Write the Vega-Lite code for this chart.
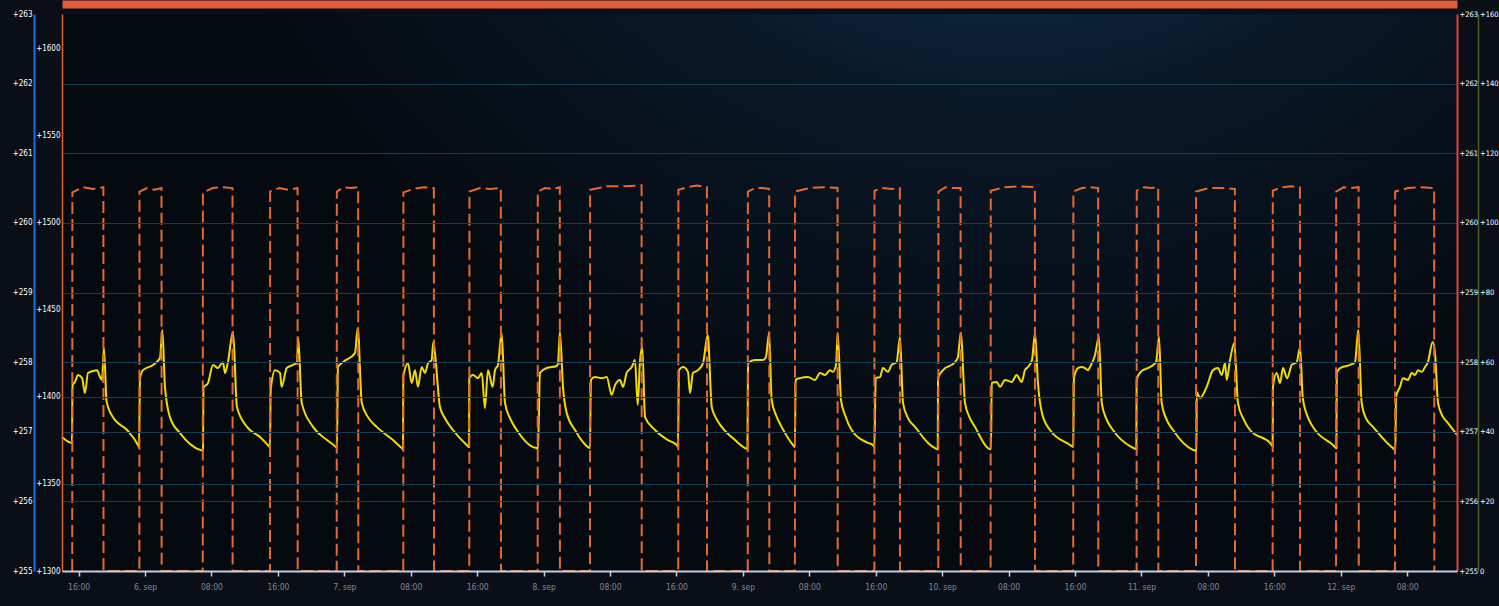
{
  "$schema": "https://vega.github.io/schema/vega-lite/v6.json",
  "width": 1395,
  "height": 557,
  "autosize": {"type": "none"},
  "padding": {"left": 62, "top": 14, "right": 42, "bottom": 35},
  "background": "#0a0f17",
  "view": {"stroke": null},
  "config": {
    "axis": {
      "labelFont": "DejaVu Sans Condensed, sans-serif",
      "labelColor": "#ffffff",
      "labelFontSize": 8,
      "ticks": false,
      "title": null,
      "grid": false,
      "labelPadding": 2
    }
  },
  "datasets": {
    "yel": [
      {"t": "2023-09-05T14:00:00Z", "v": 38.5},
      {"t": "2023-09-05T15:12:00Z", "v": 36.8},
      {"t": "2023-09-05T15:16:00Z", "v": 53.4},
      {"t": "2023-09-05T15:34:00Z", "v": 54.3},
      {"t": "2023-09-05T15:56:00Z", "v": 56.3},
      {"t": "2023-09-05T16:25:00Z", "v": 55.4},
      {"t": "2023-09-05T16:46:00Z", "v": 51.1},
      {"t": "2023-09-05T17:08:00Z", "v": 56.9},
      {"t": "2023-09-05T18:13:00Z", "v": 57.7},
      {"t": "2023-09-05T18:35:00Z", "v": 55.7},
      {"t": "2023-09-05T18:49:00Z", "v": 54.9},
      {"t": "2023-09-05T19:03:00Z", "v": 64.1},
      {"t": "2023-09-05T19:22:00Z", "v": 48.8},
      {"t": "2023-09-05T20:08:00Z", "v": 44.2},
      {"t": "2023-09-05T21:50:00Z", "v": 40.5},
      {"t": "2023-09-05T23:09:00Z", "v": 36.2},
      {"t": "2023-09-05T23:16:00Z", "v": 35.6},
      {"t": "2023-09-05T23:24:00Z", "v": 55.4},
      {"t": "2023-09-05T23:45:00Z", "v": 57.7},
      {"t": "2023-09-06T00:58:00Z", "v": 59.2},
      {"t": "2023-09-06T01:48:00Z", "v": 61.2},
      {"t": "2023-09-06T02:05:00Z", "v": 69.2},
      {"t": "2023-09-06T02:24:00Z", "v": 52.9},
      {"t": "2023-09-06T03:00:00Z", "v": 44.2},
      {"t": "2023-09-06T04:13:00Z", "v": 39.6},
      {"t": "2023-09-06T06:37:00Z", "v": 34.8},
      {"t": "2023-09-06T06:59:00Z", "v": 34.6},
      {"t": "2023-09-06T07:02:00Z", "v": 52.6},
      {"t": "2023-09-06T07:35:00Z", "v": 54.0},
      {"t": "2023-09-06T08:11:00Z", "v": 59.2},
      {"t": "2023-09-06T08:47:00Z", "v": 58.3},
      {"t": "2023-09-06T09:23:00Z", "v": 60.0},
      {"t": "2023-09-06T09:38:00Z", "v": 56.9},
      {"t": "2023-09-06T09:59:00Z", "v": 60.0},
      {"t": "2023-09-06T10:36:00Z", "v": 68.7},
      {"t": "2023-09-06T11:04:00Z", "v": 47.1},
      {"t": "2023-09-06T12:17:00Z", "v": 41.4},
      {"t": "2023-09-06T13:51:00Z", "v": 38.5},
      {"t": "2023-09-06T14:48:00Z", "v": 36.2},
      {"t": "2023-09-06T15:03:00Z", "v": 35.6},
      {"t": "2023-09-06T15:08:00Z", "v": 52.0},
      {"t": "2023-09-06T15:39:00Z", "v": 57.7},
      {"t": "2023-09-06T16:15:00Z", "v": 56.9},
      {"t": "2023-09-06T16:27:00Z", "v": 52.9},
      {"t": "2023-09-06T17:04:00Z", "v": 58.3},
      {"t": "2023-09-06T17:49:00Z", "v": 59.2},
      {"t": "2023-09-06T18:18:00Z", "v": 60.0},
      {"t": "2023-09-06T18:27:00Z", "v": 66.9},
      {"t": "2023-09-06T18:52:00Z", "v": 48.3},
      {"t": "2023-09-06T20:14:00Z", "v": 41.4},
      {"t": "2023-09-06T21:55:00Z", "v": 37.6},
      {"t": "2023-09-06T23:00:00Z", "v": 35.6},
      {"t": "2023-09-06T23:07:00Z", "v": 35.3},
      {"t": "2023-09-06T23:14:00Z", "v": 58.6},
      {"t": "2023-09-06T23:50:00Z", "v": 60.0},
      {"t": "2023-09-07T01:17:00Z", "v": 62.6},
      {"t": "2023-09-07T01:37:00Z", "v": 69.8},
      {"t": "2023-09-07T02:06:00Z", "v": 48.3},
      {"t": "2023-09-07T02:51:00Z", "v": 44.2},
      {"t": "2023-09-07T03:54:00Z", "v": 41.4},
      {"t": "2023-09-07T05:52:00Z", "v": 37.6},
      {"t": "2023-09-07T06:55:00Z", "v": 35.3},
      {"t": "2023-09-07T07:04:00Z", "v": 35.0},
      {"t": "2023-09-07T07:06:00Z", "v": 55.7},
      {"t": "2023-09-07T07:40:00Z", "v": 59.7},
      {"t": "2023-09-07T08:07:00Z", "v": 54.0},
      {"t": "2023-09-07T08:31:00Z", "v": 57.7},
      {"t": "2023-09-07T08:52:00Z", "v": 52.9},
      {"t": "2023-09-07T09:19:00Z", "v": 58.6},
      {"t": "2023-09-07T09:43:00Z", "v": 56.9},
      {"t": "2023-09-07T10:05:00Z", "v": 59.7},
      {"t": "2023-09-07T10:31:00Z", "v": 60.6},
      {"t": "2023-09-07T10:43:00Z", "v": 65.8},
      {"t": "2023-09-07T10:55:00Z", "v": 62.6},
      {"t": "2023-09-07T11:31:00Z", "v": 47.1},
      {"t": "2023-09-07T12:07:00Z", "v": 43.9},
      {"t": "2023-09-07T13:05:00Z", "v": 40.5},
      {"t": "2023-09-07T14:44:00Z", "v": 36.2},
      {"t": "2023-09-07T15:01:00Z", "v": 35.6},
      {"t": "2023-09-07T15:03:00Z", "v": 55.4},
      {"t": "2023-09-07T15:30:00Z", "v": 56.3},
      {"t": "2023-09-07T16:06:00Z", "v": 55.4},
      {"t": "2023-09-07T16:33:00Z", "v": 56.9},
      {"t": "2023-09-07T16:56:00Z", "v": 46.8},
      {"t": "2023-09-07T17:18:00Z", "v": 57.7},
      {"t": "2023-09-07T17:52:00Z", "v": 52.9},
      {"t": "2023-09-07T18:09:00Z", "v": 57.7},
      {"t": "2023-09-07T18:30:00Z", "v": 59.2},
      {"t": "2023-09-07T18:57:00Z", "v": 68.4},
      {"t": "2023-09-07T19:21:00Z", "v": 48.3},
      {"t": "2023-09-07T19:57:00Z", "v": 43.9},
      {"t": "2023-09-07T20:46:00Z", "v": 40.5},
      {"t": "2023-09-07T22:43:00Z", "v": 35.6},
      {"t": "2023-09-07T23:10:00Z", "v": 35.3},
      {"t": "2023-09-07T23:19:00Z", "v": 35.0},
      {"t": "2023-09-07T23:34:00Z", "v": 56.9},
      {"t": "2023-09-08T00:22:00Z", "v": 58.3},
      {"t": "2023-09-08T01:35:00Z", "v": 58.9},
      {"t": "2023-09-08T01:44:00Z", "v": 59.7},
      {"t": "2023-09-08T01:58:00Z", "v": 68.7},
      {"t": "2023-09-08T02:20:00Z", "v": 52.9},
      {"t": "2023-09-08T02:47:00Z", "v": 45.4},
      {"t": "2023-09-08T03:47:00Z", "v": 40.5},
      {"t": "2023-09-08T05:21:00Z", "v": 35.6},
      {"t": "2023-09-08T05:35:00Z", "v": 35.3},
      {"t": "2023-09-08T05:42:00Z", "v": 54.9},
      {"t": "2023-09-08T06:11:00Z", "v": 55.7},
      {"t": "2023-09-08T07:00:00Z", "v": 55.4},
      {"t": "2023-09-08T07:36:00Z", "v": 55.7},
      {"t": "2023-09-08T08:12:00Z", "v": 50.6},
      {"t": "2023-09-08T08:36:00Z", "v": 53.4},
      {"t": "2023-09-08T09:12:00Z", "v": 54.9},
      {"t": "2023-09-08T09:34:00Z", "v": 52.9},
      {"t": "2023-09-08T10:00:00Z", "v": 56.9},
      {"t": "2023-09-08T10:37:00Z", "v": 58.6},
      {"t": "2023-09-08T11:00:00Z", "v": 60.6},
      {"t": "2023-09-08T11:20:00Z", "v": 47.7},
      {"t": "2023-09-08T11:37:00Z", "v": 60.6},
      {"t": "2023-09-08T11:53:00Z", "v": 64.3},
      {"t": "2023-09-08T12:13:00Z", "v": 44.2},
      {"t": "2023-09-08T13:25:00Z", "v": 40.5},
      {"t": "2023-09-08T14:59:00Z", "v": 37.6},
      {"t": "2023-09-08T16:02:00Z", "v": 36.2},
      {"t": "2023-09-08T16:11:00Z", "v": 35.6},
      {"t": "2023-09-08T16:18:00Z", "v": 57.7},
      {"t": "2023-09-08T16:47:00Z", "v": 58.6},
      {"t": "2023-09-08T17:23:00Z", "v": 57.2},
      {"t": "2023-09-08T17:38:00Z", "v": 51.1},
      {"t": "2023-09-08T17:59:00Z", "v": 56.9},
      {"t": "2023-09-08T18:36:00Z", "v": 57.7},
      {"t": "2023-09-08T19:12:00Z", "v": 59.7},
      {"t": "2023-09-08T19:46:00Z", "v": 67.8},
      {"t": "2023-09-08T20:15:00Z", "v": 47.1},
      {"t": "2023-09-08T20:46:00Z", "v": 43.9},
      {"t": "2023-09-08T21:27:00Z", "v": 41.4},
      {"t": "2023-09-08T23:03:00Z", "v": 37.6},
      {"t": "2023-09-09T00:15:00Z", "v": 35.3},
      {"t": "2023-09-09T00:33:00Z", "v": 35.0},
      {"t": "2023-09-09T00:37:00Z", "v": 59.7},
      {"t": "2023-09-09T01:27:00Z", "v": 60.6},
      {"t": "2023-09-09T02:25:00Z", "v": 60.6},
      {"t": "2023-09-09T02:47:00Z", "v": 61.5},
      {"t": "2023-09-09T03:09:00Z", "v": 68.4},
      {"t": "2023-09-09T03:28:00Z", "v": 49.1},
      {"t": "2023-09-09T03:59:00Z", "v": 44.8},
      {"t": "2023-09-09T04:40:00Z", "v": 41.4},
      {"t": "2023-09-09T06:02:00Z", "v": 36.2},
      {"t": "2023-09-09T06:16:00Z", "v": 35.6},
      {"t": "2023-09-09T06:21:00Z", "v": 54.9},
      {"t": "2023-09-09T06:53:00Z", "v": 55.4},
      {"t": "2023-09-09T07:50:00Z", "v": 55.7},
      {"t": "2023-09-09T08:41:00Z", "v": 54.9},
      {"t": "2023-09-09T09:17:00Z", "v": 56.9},
      {"t": "2023-09-09T09:53:00Z", "v": 56.3},
      {"t": "2023-09-09T10:29:00Z", "v": 57.7},
      {"t": "2023-09-09T10:51:00Z", "v": 57.2},
      {"t": "2023-09-09T11:13:00Z", "v": 59.2},
      {"t": "2023-09-09T11:25:00Z", "v": 68.4},
      {"t": "2023-09-09T11:49:00Z", "v": 49.1},
      {"t": "2023-09-09T12:18:00Z", "v": 44.8},
      {"t": "2023-09-09T13:06:00Z", "v": 40.5},
      {"t": "2023-09-09T15:04:00Z", "v": 36.8},
      {"t": "2023-09-09T15:40:00Z", "v": 36.2},
      {"t": "2023-09-09T15:50:00Z", "v": 35.6},
      {"t": "2023-09-09T16:00:00Z", "v": 55.4},
      {"t": "2023-09-09T16:31:00Z", "v": 55.7},
      {"t": "2023-09-09T16:52:00Z", "v": 58.3},
      {"t": "2023-09-09T17:28:00Z", "v": 57.2},
      {"t": "2023-09-09T17:55:00Z", "v": 59.2},
      {"t": "2023-09-09T18:31:00Z", "v": 60.0},
      {"t": "2023-09-09T18:55:00Z", "v": 67.2},
      {"t": "2023-09-09T19:17:00Z", "v": 48.3},
      {"t": "2023-09-09T19:53:00Z", "v": 43.9},
      {"t": "2023-09-09T20:44:00Z", "v": 41.4},
      {"t": "2023-09-09T22:18:00Z", "v": 36.8},
      {"t": "2023-09-09T23:08:00Z", "v": 35.3},
      {"t": "2023-09-09T23:28:00Z", "v": 35.0},
      {"t": "2023-09-09T23:30:00Z", "v": 55.4},
      {"t": "2023-09-10T00:06:00Z", "v": 57.7},
      {"t": "2023-09-10T01:33:00Z", "v": 60.0},
      {"t": "2023-09-10T01:54:00Z", "v": 61.5},
      {"t": "2023-09-10T02:14:00Z", "v": 68.4},
      {"t": "2023-09-10T02:45:00Z", "v": 48.3},
      {"t": "2023-09-10T03:14:00Z", "v": 44.5},
      {"t": "2023-09-10T03:57:00Z", "v": 41.4},
      {"t": "2023-09-10T05:31:00Z", "v": 35.3},
      {"t": "2023-09-10T05:53:00Z", "v": 35.0},
      {"t": "2023-09-10T05:58:00Z", "v": 54.0},
      {"t": "2023-09-10T06:34:00Z", "v": 54.3},
      {"t": "2023-09-10T06:58:00Z", "v": 52.9},
      {"t": "2023-09-10T07:34:00Z", "v": 54.9},
      {"t": "2023-09-10T08:22:00Z", "v": 54.3},
      {"t": "2023-09-10T08:58:00Z", "v": 56.3},
      {"t": "2023-09-10T09:35:00Z", "v": 54.3},
      {"t": "2023-09-10T09:58:00Z", "v": 57.7},
      {"t": "2023-09-10T10:20:00Z", "v": 58.6},
      {"t": "2023-09-10T10:49:00Z", "v": 60.6},
      {"t": "2023-09-10T11:11:00Z", "v": 68.4},
      {"t": "2023-09-10T11:32:00Z", "v": 54.0},
      {"t": "2023-09-10T12:01:00Z", "v": 45.4},
      {"t": "2023-09-10T12:59:00Z", "v": 40.5},
      {"t": "2023-09-10T15:24:00Z", "v": 36.2},
      {"t": "2023-09-10T15:47:00Z", "v": 35.6},
      {"t": "2023-09-10T15:52:00Z", "v": 55.4},
      {"t": "2023-09-10T16:21:00Z", "v": 58.3},
      {"t": "2023-09-10T16:48:00Z", "v": 58.6},
      {"t": "2023-09-10T17:12:00Z", "v": 58.3},
      {"t": "2023-09-10T17:34:00Z", "v": 57.7},
      {"t": "2023-09-10T17:48:00Z", "v": 58.6},
      {"t": "2023-09-10T18:24:00Z", "v": 62.0},
      {"t": "2023-09-10T18:53:00Z", "v": 67.2},
      {"t": "2023-09-10T19:13:00Z", "v": 48.3},
      {"t": "2023-09-10T19:44:00Z", "v": 43.9},
      {"t": "2023-09-10T20:34:00Z", "v": 40.5},
      {"t": "2023-09-10T22:49:00Z", "v": 35.6},
      {"t": "2023-09-10T23:23:00Z", "v": 35.0},
      {"t": "2023-09-10T23:25:00Z", "v": 54.9},
      {"t": "2023-09-10T23:54:00Z", "v": 57.2},
      {"t": "2023-09-11T01:02:00Z", "v": 58.6},
      {"t": "2023-09-11T01:45:00Z", "v": 60.0},
      {"t": "2023-09-11T02:07:00Z", "v": 67.2},
      {"t": "2023-09-11T02:26:00Z", "v": 48.3},
      {"t": "2023-09-11T02:57:00Z", "v": 43.9},
      {"t": "2023-09-11T03:48:00Z", "v": 40.5},
      {"t": "2023-09-11T06:12:00Z", "v": 34.8},
      {"t": "2023-09-11T06:38:00Z", "v": 34.5},
      {"t": "2023-09-11T06:39:00Z", "v": 51.4},
      {"t": "2023-09-11T07:03:00Z", "v": 49.7},
      {"t": "2023-09-11T07:51:00Z", "v": 52.9},
      {"t": "2023-09-11T08:37:00Z", "v": 57.7},
      {"t": "2023-09-11T09:13:00Z", "v": 58.3},
      {"t": "2023-09-11T09:40:00Z", "v": 56.3},
      {"t": "2023-09-11T10:04:00Z", "v": 59.7},
      {"t": "2023-09-11T10:16:00Z", "v": 54.9},
      {"t": "2023-09-11T10:40:00Z", "v": 60.6},
      {"t": "2023-09-11T11:11:00Z", "v": 65.5},
      {"t": "2023-09-11T11:37:00Z", "v": 48.3},
      {"t": "2023-09-11T12:14:00Z", "v": 43.9},
      {"t": "2023-09-11T13:04:00Z", "v": 40.5},
      {"t": "2023-09-11T15:29:00Z", "v": 36.8},
      {"t": "2023-09-11T15:48:00Z", "v": 35.9},
      {"t": "2023-09-11T15:50:00Z", "v": 52.9},
      {"t": "2023-09-11T16:17:00Z", "v": 56.9},
      {"t": "2023-09-11T16:41:00Z", "v": 54.0},
      {"t": "2023-09-11T17:03:00Z", "v": 58.3},
      {"t": "2023-09-11T17:32:00Z", "v": 55.4},
      {"t": "2023-09-11T18:06:00Z", "v": 59.2},
      {"t": "2023-09-11T18:42:00Z", "v": 60.0},
      {"t": "2023-09-11T19:06:00Z", "v": 64.3},
      {"t": "2023-09-11T19:25:00Z", "v": 50.0},
      {"t": "2023-09-11T19:56:00Z", "v": 44.8},
      {"t": "2023-09-11T20:39:00Z", "v": 41.4},
      {"t": "2023-09-11T23:04:00Z", "v": 36.2},
      {"t": "2023-09-11T23:29:00Z", "v": 35.3},
      {"t": "2023-09-11T23:31:00Z", "v": 56.9},
      {"t": "2023-09-11T23:55:00Z", "v": 58.3},
      {"t": "2023-09-12T01:07:00Z", "v": 59.2},
      {"t": "2023-09-12T01:43:00Z", "v": 60.0},
      {"t": "2023-09-12T02:07:00Z", "v": 69.2},
      {"t": "2023-09-12T02:31:00Z", "v": 48.3},
      {"t": "2023-09-12T03:02:00Z", "v": 43.9},
      {"t": "2023-09-12T03:53:00Z", "v": 41.4},
      {"t": "2023-09-12T06:17:00Z", "v": 35.3},
      {"t": "2023-09-12T06:35:00Z", "v": 34.8},
      {"t": "2023-09-12T06:39:00Z", "v": 50.0},
      {"t": "2023-09-12T07:08:00Z", "v": 52.9},
      {"t": "2023-09-12T07:30:00Z", "v": 55.4},
      {"t": "2023-09-12T08:06:00Z", "v": 54.9},
      {"t": "2023-09-12T08:33:00Z", "v": 56.9},
      {"t": "2023-09-12T08:56:00Z", "v": 56.3},
      {"t": "2023-09-12T09:18:00Z", "v": 57.7},
      {"t": "2023-09-12T09:45:00Z", "v": 57.2},
      {"t": "2023-09-12T10:09:00Z", "v": 58.6},
      {"t": "2023-09-12T10:30:00Z", "v": 60.0},
      {"t": "2023-09-12T11:04:00Z", "v": 65.8},
      {"t": "2023-09-12T11:21:00Z", "v": 62.6},
      {"t": "2023-09-12T11:43:00Z", "v": 48.3},
      {"t": "2023-09-12T12:12:00Z", "v": 44.8},
      {"t": "2023-09-12T12:55:00Z", "v": 42.5},
      {"t": "2023-09-12T14:00:00Z", "v": 39.1}
    ],
    "org": [
      {"t": "2023-09-05T15:14:00Z", "p": 1300},
      {"t": "2023-09-05T15:15:00Z", "p": 1517.5},
      {"t": "2023-09-05T16:30:00Z", "p": 1520.5},
      {"t": "2023-09-05T17:45:00Z", "p": 1519.5},
      {"t": "2023-09-05T18:59:00Z", "p": 1520.5},
      {"t": "2023-09-05T19:00:00Z", "p": 1300},
      {"t": "2023-09-05T23:19:00Z", "p": 1300},
      {"t": "2023-09-05T23:20:00Z", "p": 1518.0},
      {"t": "2023-09-06T00:15:00Z", "p": 1520.0},
      {"t": "2023-09-06T01:10:00Z", "p": 1519.0},
      {"t": "2023-09-06T01:59:00Z", "p": 1520.0},
      {"t": "2023-09-06T02:00:00Z", "p": 1300},
      {"t": "2023-09-06T06:57:00Z", "p": 1300},
      {"t": "2023-09-06T06:58:00Z", "p": 1517.5},
      {"t": "2023-09-06T08:10:00Z", "p": 1520.0},
      {"t": "2023-09-06T09:20:00Z", "p": 1520.5},
      {"t": "2023-09-06T10:32:00Z", "p": 1520.0},
      {"t": "2023-09-06T10:33:00Z", "p": 1300},
      {"t": "2023-09-06T15:03:00Z", "p": 1300},
      {"t": "2023-09-06T15:04:00Z", "p": 1518.0},
      {"t": "2023-09-06T16:10:00Z", "p": 1520.0},
      {"t": "2023-09-06T17:15:00Z", "p": 1519.0},
      {"t": "2023-09-06T18:22:00Z", "p": 1520.0},
      {"t": "2023-09-06T18:23:00Z", "p": 1300},
      {"t": "2023-09-06T23:05:00Z", "p": 1300},
      {"t": "2023-09-06T23:06:00Z", "p": 1518.0},
      {"t": "2023-09-06T23:55:00Z", "p": 1520.5},
      {"t": "2023-09-07T00:50:00Z", "p": 1520.0},
      {"t": "2023-09-07T01:40:00Z", "p": 1520.5},
      {"t": "2023-09-07T01:41:00Z", "p": 1300},
      {"t": "2023-09-07T07:06:00Z", "p": 1300},
      {"t": "2023-09-07T07:07:00Z", "p": 1517.5},
      {"t": "2023-09-07T08:20:00Z", "p": 1519.5},
      {"t": "2023-09-07T09:35:00Z", "p": 1520.5},
      {"t": "2023-09-07T10:47:00Z", "p": 1520.0},
      {"t": "2023-09-07T10:48:00Z", "p": 1300},
      {"t": "2023-09-07T15:03:00Z", "p": 1300},
      {"t": "2023-09-07T15:04:00Z", "p": 1518.0},
      {"t": "2023-09-07T16:20:00Z", "p": 1520.0},
      {"t": "2023-09-07T17:35:00Z", "p": 1519.5},
      {"t": "2023-09-07T18:51:00Z", "p": 1520.0},
      {"t": "2023-09-07T18:52:00Z", "p": 1300},
      {"t": "2023-09-07T23:17:00Z", "p": 1300},
      {"t": "2023-09-07T23:18:00Z", "p": 1518.0},
      {"t": "2023-09-08T00:10:00Z", "p": 1520.0},
      {"t": "2023-09-08T01:05:00Z", "p": 1519.5},
      {"t": "2023-09-08T01:57:00Z", "p": 1520.5},
      {"t": "2023-09-08T01:58:00Z", "p": 1300},
      {"t": "2023-09-08T05:35:00Z", "p": 1300},
      {"t": "2023-09-08T05:36:00Z", "p": 1519.0},
      {"t": "2023-09-08T07:40:00Z", "p": 1521.0},
      {"t": "2023-09-08T09:45:00Z", "p": 1521.0},
      {"t": "2023-09-08T11:48:00Z", "p": 1521.5},
      {"t": "2023-09-08T11:49:00Z", "p": 1300},
      {"t": "2023-09-08T16:13:00Z", "p": 1300},
      {"t": "2023-09-08T16:14:00Z", "p": 1519.0},
      {"t": "2023-09-08T17:20:00Z", "p": 1520.5},
      {"t": "2023-09-08T18:30:00Z", "p": 1521.5},
      {"t": "2023-09-08T19:40:00Z", "p": 1520.5},
      {"t": "2023-09-08T19:41:00Z", "p": 1300},
      {"t": "2023-09-09T00:35:00Z", "p": 1300},
      {"t": "2023-09-09T00:36:00Z", "p": 1518.0},
      {"t": "2023-09-09T01:30:00Z", "p": 1520.0},
      {"t": "2023-09-09T02:20:00Z", "p": 1520.0},
      {"t": "2023-09-09T03:10:00Z", "p": 1519.5},
      {"t": "2023-09-09T03:11:00Z", "p": 1300},
      {"t": "2023-09-09T06:16:00Z", "p": 1300},
      {"t": "2023-09-09T06:17:00Z", "p": 1518.0},
      {"t": "2023-09-09T08:00:00Z", "p": 1520.0},
      {"t": "2023-09-09T09:45:00Z", "p": 1520.5},
      {"t": "2023-09-09T11:24:00Z", "p": 1520.0},
      {"t": "2023-09-09T11:25:00Z", "p": 1300},
      {"t": "2023-09-09T15:50:00Z", "p": 1300},
      {"t": "2023-09-09T15:51:00Z", "p": 1518.5},
      {"t": "2023-09-09T16:50:00Z", "p": 1520.0},
      {"t": "2023-09-09T17:55:00Z", "p": 1519.5},
      {"t": "2023-09-09T18:54:00Z", "p": 1520.0},
      {"t": "2023-09-09T18:55:00Z", "p": 1300},
      {"t": "2023-09-09T23:32:00Z", "p": 1300},
      {"t": "2023-09-09T23:33:00Z", "p": 1518.0},
      {"t": "2023-09-10T00:25:00Z", "p": 1520.5},
      {"t": "2023-09-10T01:20:00Z", "p": 1520.0},
      {"t": "2023-09-10T02:13:00Z", "p": 1520.0},
      {"t": "2023-09-10T02:14:00Z", "p": 1300},
      {"t": "2023-09-10T05:50:00Z", "p": 1300},
      {"t": "2023-09-10T05:51:00Z", "p": 1518.5},
      {"t": "2023-09-10T07:35:00Z", "p": 1520.5},
      {"t": "2023-09-10T09:25:00Z", "p": 1521.0},
      {"t": "2023-09-10T11:10:00Z", "p": 1520.5},
      {"t": "2023-09-10T11:11:00Z", "p": 1300},
      {"t": "2023-09-10T15:47:00Z", "p": 1300},
      {"t": "2023-09-10T15:48:00Z", "p": 1518.0},
      {"t": "2023-09-10T16:50:00Z", "p": 1520.0},
      {"t": "2023-09-10T17:50:00Z", "p": 1520.5},
      {"t": "2023-09-10T18:47:00Z", "p": 1520.0},
      {"t": "2023-09-10T18:48:00Z", "p": 1300},
      {"t": "2023-09-10T23:25:00Z", "p": 1300},
      {"t": "2023-09-10T23:26:00Z", "p": 1518.5},
      {"t": "2023-09-11T00:17:00Z", "p": 1520.5},
      {"t": "2023-09-11T01:10:00Z", "p": 1520.0},
      {"t": "2023-09-11T02:01:00Z", "p": 1520.5},
      {"t": "2023-09-11T02:02:00Z", "p": 1300},
      {"t": "2023-09-11T06:34:00Z", "p": 1300},
      {"t": "2023-09-11T06:35:00Z", "p": 1518.0},
      {"t": "2023-09-11T08:10:00Z", "p": 1520.0},
      {"t": "2023-09-11T09:40:00Z", "p": 1520.0},
      {"t": "2023-09-11T11:15:00Z", "p": 1519.5},
      {"t": "2023-09-11T11:16:00Z", "p": 1300},
      {"t": "2023-09-11T15:48:00Z", "p": 1300},
      {"t": "2023-09-11T15:49:00Z", "p": 1518.5},
      {"t": "2023-09-11T16:55:00Z", "p": 1520.5},
      {"t": "2023-09-11T18:00:00Z", "p": 1521.0},
      {"t": "2023-09-11T19:05:00Z", "p": 1520.5},
      {"t": "2023-09-11T19:06:00Z", "p": 1300},
      {"t": "2023-09-11T23:26:00Z", "p": 1300},
      {"t": "2023-09-11T23:27:00Z", "p": 1518.0},
      {"t": "2023-09-12T00:20:00Z", "p": 1520.5},
      {"t": "2023-09-12T01:15:00Z", "p": 1520.0},
      {"t": "2023-09-12T02:09:00Z", "p": 1520.5},
      {"t": "2023-09-12T02:10:00Z", "p": 1300},
      {"t": "2023-09-12T06:32:00Z", "p": 1300},
      {"t": "2023-09-12T06:33:00Z", "p": 1518.0},
      {"t": "2023-09-12T08:05:00Z", "p": 1520.0},
      {"t": "2023-09-12T09:40:00Z", "p": 1520.5},
      {"t": "2023-09-12T11:15:00Z", "p": 1520.0},
      {"t": "2023-09-12T11:16:00Z", "p": 1300}
    ]
  },
  "layer": [
    {
      "data": {"values": [{}]},
      "mark": {
        "type": "rect",
        "color": {
          "gradient": "radial",
          "x1": 0.68, "y1": 0, "r1": 0,
          "x2": 0.68, "y2": 0, "r2": 0.62,
          "stops": [
            {"offset": 0, "color": "#1b5c8c"},
            {"offset": 0.25, "color": "#113a5c"},
            {"offset": 0.6, "color": "#091726"},
            {"offset": 1, "color": "#050a10"}
          ]
        }
      },
      "encoding": {
        "x": {"datum": 1693922400000, "type": "temporal", "axis": null},
        "x2": {"datum": 1694527200000},
        "y": {
          "datum": 255,
          "type": "quantitative",
          "scale": {"domain": [255, 263], "nice": false, "zero": false},
          "axis": {
            "orient": "left",
            "offset": 28,
            "values": [255, 256, 257, 258, 259, 260, 261, 262, 263],
            "domainColor": "#1f6fdc",
            "domainWidth": 2,
            "labelExpr": "'+' + datum.label"
          }
        },
        "y2": {"datum": 263}
      }
    },
    {
      "data": {"name": "yel"},
      "mark": {"type": "line", "color": "#f0dc00", "strokeWidth": 2, "interpolate": "monotone"},
      "encoding": {
        "x": {
          "field": "t",
          "type": "temporal",
          "scale": {"domain": [1693922400000, 1694527200000], "nice": false},
          "axis": {
            "orient": "bottom",
            "zindex": 2,
            "values": [1693929600000, 1693958400000, 1693987200000, 1694016000000, 1694044800000, 1694073600000, 1694102400000, 1694131200000, 1694160000000, 1694188800000, 1694217600000, 1694246400000, 1694275200000, 1694304000000, 1694332800000, 1694361600000, 1694390400000, 1694419200000, 1694448000000, 1694476800000, 1694505600000],
            "domainColor": "#c5cde0",
            "domainWidth": 2,
            "ticks": true,
            "tickColor": "#c5cde0",
            "tickSize": 5,
            "tickWidth": 1.5,
            "labelColor": "#7d8898",
            "labelFontSize": 8.5,
            "labelPadding": 6,
            "labelExpr": "utcFormat(datum.value, '%H') == '00' ? utcFormat(datum.value, '%-d') + '. ' + lower(utcFormat(datum.value, '%b')) : utcFormat(datum.value, '%H:%M')"
          }
        },
        "y": {
          "field": "v",
          "type": "quantitative",
          "scale": {"domain": [0, 160], "nice": false, "zero": false},
          "axis": {
            "orient": "right",
            "offset": 21,
            "values": [0, 20, 40, 60, 80, 100, 120, 140, 160],
            "domainColor": "#4f5e2a",
            "domainWidth": 1.5,
            "labelFontSize": 7.5,
            "labelPadding": 1.5,
            "labelExpr": "datum.value > 0 ? '+' + datum.label : datum.label"
          }
        }
      }
    },
    {
      "data": {"name": "org"},
      "mark": {"type": "line", "color": "#e8692c", "strokeWidth": 2, "strokeDash": [12, 5]},
      "encoding": {
        "x": {
          "field": "t",
          "type": "temporal",
          "axis": {
            "orient": "top",
            "offset": 10,
            "zindex": 2,
            "labels": false,
            "ticks": false,
            "domainColor": "#e35d3b",
            "domainWidth": 8
          }
        },
        "y": {
          "field": "p",
          "type": "quantitative",
          "scale": {"domain": [1300, 1620], "nice": false, "zero": false},
          "axis": {
            "orient": "left",
            "offset": 0,
            "zindex": 1,
            "values": [1300, 1350, 1400, 1450, 1500, 1550, 1600],
            "format": "d",
            "domainColor": "#d9662a",
            "domainWidth": 1.5,
            "grid": true,
            "gridColor": "#183d50",
            "gridOpacity": {"condition": {"test": "datum.value == 1350 || datum.value == 1400", "value": 1}, "value": 0},
            "labelExpr": "'+' + datum.label"
          }
        }
      }
    },
    {
      "data": {"values": [{}]},
      "mark": {"type": "rule", "opacity": 0},
      "encoding": {
        "y": {
          "datum": 255,
          "type": "quantitative",
          "scale": {"domain": [255, 263], "nice": false, "zero": false},
          "axis": {
            "orient": "right",
            "offset": 0,
            "zindex": 1,
            "values": [255, 256, 257, 258, 259, 260, 261, 262, 263],
            "domainColor": "#e0403c",
            "domainWidth": 2,
            "grid": true,
            "gridColor": "#183d50",
            "gridWidth": 1,
            "gridOpacity": {"condition": {"test": "datum.value == 255 || datum.value == 263", "value": 0}, "value": 1},
            "labelFontSize": 7.5,
            "labelExpr": "'+' + datum.label"
          }
        }
      }
    }
  ],
  "resolve": {
    "scale": {"y": "independent"},
    "axis": {"x": "independent", "y": "independent"}
  }
}
